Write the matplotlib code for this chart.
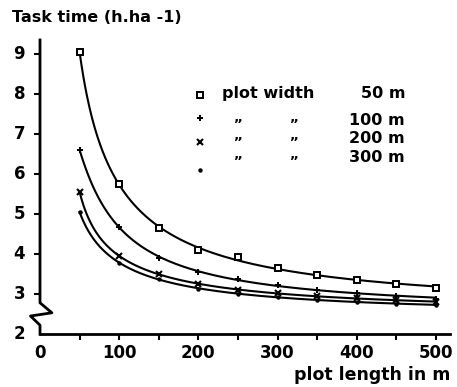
import numpy as np
import matplotlib
matplotlib.use("Agg")
import matplotlib.pyplot as plt
from matplotlib.lines import Line2D

# ---- data ----
plot_length = [50, 100, 150, 200, 250, 300, 350, 400, 450, 500]
w50 = [9.05, 5.75, 4.65, 4.10, 3.92, 3.66, 3.47, 3.35, 3.26, 3.15]
w100 = [6.60, 4.68, 3.90, 3.56, 3.38, 3.22, 3.10, 3.02, 2.96, 2.88]
w200 = [5.55, 3.95, 3.50, 3.25, 3.10, 3.02, 2.95, 2.89, 2.85, 2.80]
w300 = [5.05, 3.78, 3.38, 3.12, 3.00, 2.93, 2.86, 2.80, 2.76, 2.72]
series_labels = ["plot width", "\u201e", "\u201e", "\u201e"]
series_widths = ["50 m", "100 m", "200 m", "300 m"]
xticks = [0, 100, 200, 300, 400, 500]
yticks = [2, 3, 4, 5, 6, 7, 8, 9]


def smooth_curve(x, y, xs):
    # least-squares smooth trend in reciprocal space (hyperbola-like curves)
    u = 1.0 / np.asarray(x, float)
    c = np.polyfit(u, np.asarray(y, float), 3)
    return np.polyval(c, 1.0 / xs)


fig = plt.figure(figsize=(4.57, 3.87), dpi=100)
ax = fig.add_axes([40 / 457, (387 - 334) / 387, 410 / 457, (334 - 40) / 387])
ax.set_xlim(0, 517.7)
ax.set_ylim(2, 9.35)

markers = [("s", 5, dict(mfc="white", mec="black", mew=1.4)),
           ("P", 5, dict(mfc="black", mec="black", mew=0)),
           ("x", 4.5, dict(mfc="black", mec="black", mew=1.5)),
           ("o", 3.2, dict(mfc="black", mec="black", mew=0))]

xs = np.linspace(plot_length[0], plot_length[-1], 400)
for ys, (mk, ms, kw) in zip([w50, w100, w200, w300], markers):
    ax.plot(xs, smooth_curve(plot_length, ys, xs), color="black", lw=1.5)
    ax.plot(plot_length, ys, ls="none", marker=mk, ms=ms, **kw)

# legend as text
mk_y = [7.98, 7.4, 6.8, 6.1]
txt_y = [8.0, 7.33, 6.88, 6.4]
for i, ((mk, ms, kw), ym, yt) in enumerate(zip(markers, mk_y, txt_y)):
    ax.plot([202], [ym], ls="none", marker=mk, ms=ms, **kw, clip_on=False)
    if i == 0:
        ax.text(230, yt, series_labels[i], fontsize=11.5, fontweight="bold", va="center", ha="left")
    else:
        ax.text(250, yt + 0.1, series_labels[i], fontsize=10, fontweight="bold", va="center", ha="center")
        ax.text(320, yt + 0.1, series_labels[i], fontsize=10, fontweight="bold", va="center", ha="center")
    ax.text(461, yt, series_widths[i], fontsize=11.5, fontweight="bold", va="center", ha="right")

# spines
for s in ["top", "right", "left"]:
    ax.spines[s].set_visible(False)
ax.spines["bottom"].set_linewidth(2)

# custom left spine with break
bx = [0, 0, 15, -12, 0, 0]
by = [9.35, 2.78, 2.53, 2.45, 2.22, 2.0]
ax.add_line(Line2D(bx, by, color="black", lw=2, clip_on=False, transform=ax.transData))

ax.set_xticks(list(range(50, 501, 50)))
ax.set_xticklabels([])
ax.tick_params(axis="x", direction="out", length=4, width=1.5)
ax.set_yticks(yticks[1:])
ax.set_yticklabels([])
ax.tick_params(axis="y", direction="out", length=4, width=1.5)

for t in xticks:
    ax.text(t, 1.53, str(t), fontsize=12, fontweight="bold", ha="center", va="center")
for t in yticks:
    ax.text(-26, t, str(t), fontsize=12, fontweight="bold", ha="center", va="center")

fig.text(12 / 457, 1 - 18 / 387, "Task time (h.ha -1)", fontsize=11.5, fontweight="bold",
         ha="left", va="center")
fig.text(450 / 457, 1 - 375 / 387, "plot length in m", fontsize=12.5, fontweight="bold",
         ha="right", va="center")

fig.savefig("out.png", dpi=100)
